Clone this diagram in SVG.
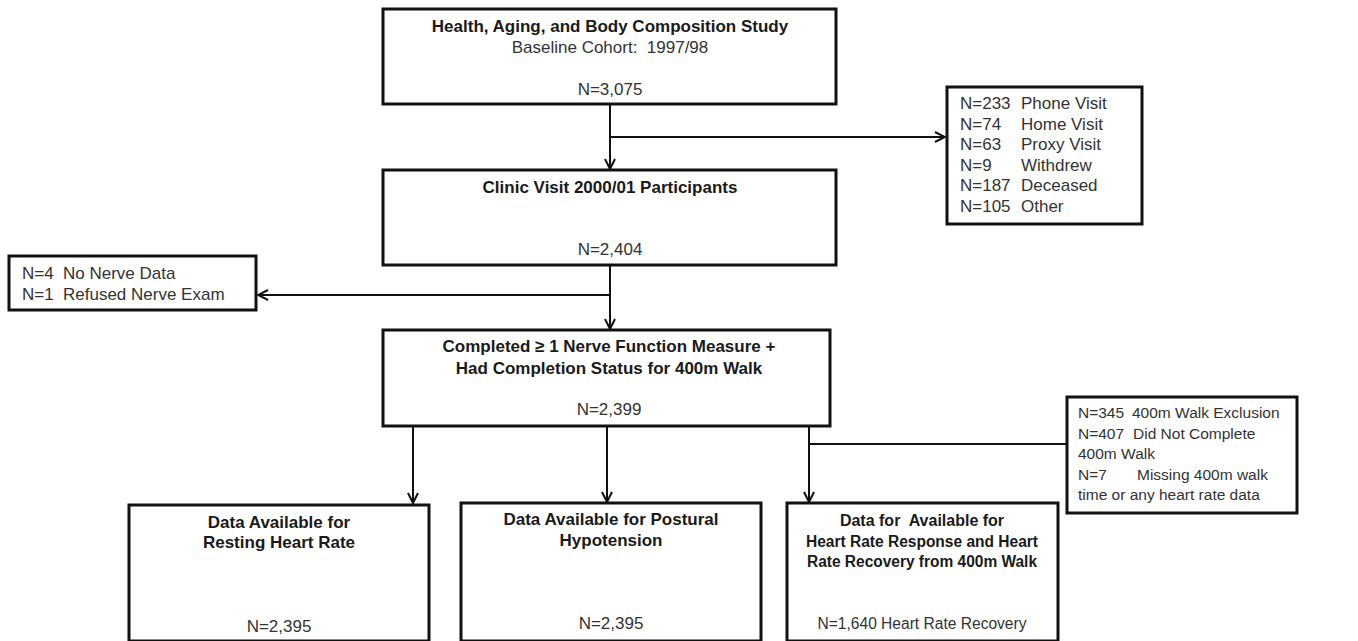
<svg xmlns="http://www.w3.org/2000/svg" width="1358" height="641" viewBox="0 0 1358 641">
<style>
.box{fill:#fff;stroke:#111;stroke-width:3}
.ln{fill:none;stroke:#111;stroke-width:2}
text{font-family:"Liberation Sans",Arial,sans-serif;font-size:17px;fill:#333;white-space:pre}
.b{font-weight:bold;fill:#1a1a1a}
.c{text-anchor:middle}
.s{font-size:16px}
.t{font-size:15.5px}
</style>
<defs>
<marker id="ah" viewBox="0 0 12 12" refX="11" refY="6" markerWidth="12" markerHeight="12" markerUnits="userSpaceOnUse" orient="auto">
<path d="M1,1 L11,6 L1,11" fill="none" stroke="#111" stroke-width="2"/>
</marker>
</defs>
<rect width="1358" height="641" fill="#fff"/>
<g id="connectors">
<line class="ln" x1="610" y1="104" x2="610" y2="169" marker-end="url(#ah)"/>
<line class="ln" x1="610" y1="137" x2="945" y2="137" marker-end="url(#ah)"/>
<line class="ln" x1="610" y1="265" x2="610" y2="329" marker-end="url(#ah)"/>
<line class="ln" x1="610" y1="295" x2="258" y2="295" marker-end="url(#ah)"/>
<line class="ln" x1="413" y1="426" x2="413" y2="503" marker-end="url(#ah)"/>
<line class="ln" x1="607" y1="426" x2="607" y2="502" marker-end="url(#ah)"/>
<line class="ln" x1="809" y1="426" x2="809" y2="502" marker-end="url(#ah)"/>
<line class="ln" x1="809" y1="444" x2="1067" y2="444"/>
</g>
<g id="baseline">
<rect class="box" x="383" y="9" width="453" height="95"/>
<text class="b c" x="610" y="32">Health, Aging, and Body Composition Study</text>
<text class="c" x="610" y="53">Baseline Cohort:  1997/98</text>
<text class="c" x="610" y="95">N=3,075</text>
</g>
<g id="lost">
<rect class="box" x="947" y="87" width="195" height="137"/>
<text x="960" y="109">N=233</text><text x="1021" y="109">Phone Visit</text>
<text x="960" y="129.6">N=74</text><text x="1021" y="129.6">Home Visit</text>
<text x="960" y="150.2">N=63</text><text x="1021" y="150.2">Proxy Visit</text>
<text x="960" y="170.8">N=9</text><text x="1021" y="170.8">Withdrew</text>
<text x="960" y="191.4">N=187</text><text x="1021" y="191.4">Deceased</text>
<text x="960" y="212">N=105</text><text x="1021" y="212">Other</text>
</g>
<g id="clinic">
<rect class="box" x="383" y="170" width="453" height="95"/>
<text class="b c" x="610" y="193">Clinic Visit 2000/01 Participants</text>
<text class="c" x="610" y="255">N=2,404</text>
</g>
<g id="nerveExcl">
<rect class="box" x="9" y="256" width="247" height="54"/>
<text x="22" y="279">N=4</text><text x="63" y="279">No Nerve Data</text>
<text x="22" y="300">N=1</text><text x="63" y="300">Refused Nerve Exam</text>
</g>
<g id="completed">
<rect class="box" x="383" y="330" width="447" height="96"/>
<text class="b c" x="609" y="352">Completed ≥ 1 Nerve Function Measure +</text>
<text class="b c" x="609" y="374">Had Completion Status for 400m Walk</text>
<text class="c" x="609" y="415">N=2,399</text>
</g>
<g id="walkExcl">
<rect class="box" x="1067" y="397" width="230" height="116"/>
<text class="t" x="1078" y="418">N=345</text><text class="t" x="1132" y="418">400m Walk Exclusion</text>
<text class="t" x="1078" y="438.6">N=407</text><text class="t" x="1133" y="438.6">Did Not Complete</text>
<text class="t" x="1078" y="459.2">400m Walk</text>
<text class="t" x="1078" y="479.8">N=7</text><text class="t" x="1137" y="479.8">Missing 400m walk</text>
<text class="t" x="1078" y="500.4">time or any heart rate data</text>
</g>
<g id="resting">
<rect class="box" x="129" y="505" width="300" height="136"/>
<text class="b c" x="279" y="528">Data Available for</text>
<text class="b c" x="279" y="548">Resting Heart Rate</text>
<text class="c" x="279" y="632">N=2,395</text>
</g>
<g id="postural">
<rect class="box" x="461" y="503" width="300" height="138"/>
<text class="b c" x="611" y="525">Data Available for Postural</text>
<text class="b c" x="611" y="546">Hypotension</text>
<text class="c" x="611" y="629">N=2,395</text>
</g>
<g id="hrr">
<rect class="box" x="787" y="503" width="271" height="138"/>
<text class="b c s" x="922" y="526">Data for  Available for</text>
<text class="b c s" x="922" y="547" textLength="232" lengthAdjust="spacingAndGlyphs">Heart Rate Response and Heart</text>
<text class="b c s" x="922" y="567" textLength="230" lengthAdjust="spacingAndGlyphs">Rate Recovery from 400m Walk</text>
<text class="c s" x="922" y="629" textLength="209" lengthAdjust="spacingAndGlyphs">N=1,640 Heart Rate Recovery</text>
</g>
</svg>
